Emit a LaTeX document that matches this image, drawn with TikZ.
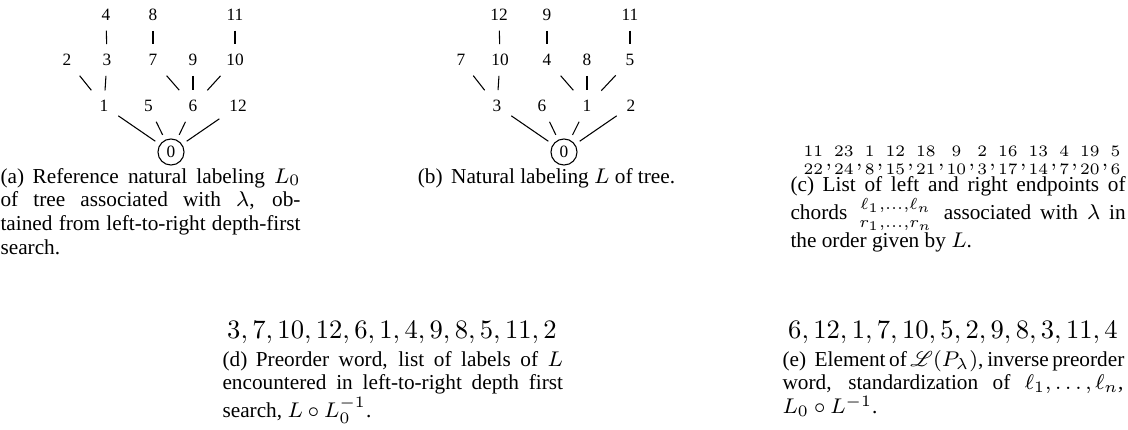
\RequirePackage{fix-cm}
\documentclass[tikz,border=0pt]{standalone}
\usepackage{amsmath}
\usepackage{mathrsfs}
\usepackage[no-math]{fontspec}
\setmainfont{Liberation Serif}
\newcommand{\jl}[1]{\makebox[\linewidth][s]{#1}}
\newcommand{\lsep}{\hspace{0.4em}}
\newcommand{\ch}[2]{\genfrac{}{}{0pt}{}{#1}{#2}}
\begin{document}
\begin{tikzpicture}[x=0.37594pt,y=-0.37594pt,
  lbl/.style={font=\fontsize{6.5}{7.8}\selectfont, inner sep=3.76pt, outer sep=0pt},
  rootnode/.style={circle, draw, line width=0.4pt, minimum size=9.8pt, inner sep=0pt, outer sep=2.25pt, font=\fontsize{6.5}{7.8}\selectfont},
  edge/.style={line width=0.4pt},
  capt/.style={anchor=base west, inner sep=0pt, font=\fontsize{8}{9}\selectfont},
  word/.style={anchor=base, inner sep=0pt, font=\fontsize{10}{12}\selectfont}]
\useasboundingbox (0,0) rectangle (1128,429);

% ---------- tree (a)
\node[lbl] (a4)  at (106,15) {4};
\node[lbl] (a8)  at (153,15) {8};
\node[lbl] (a11) at (235,15) {11};
\node[lbl] (a2)  at (67,60)  {2};
\node[lbl] (a3)  at (107,60) {3};
\node[lbl] (a7)  at (153,60) {7};
\node[lbl] (a9)  at (193,60) {9};
\node[lbl] (a10) at (235,60) {10};
\node[lbl] (a1)  at (104,106) {1};
\node[lbl] (a5)  at (148.5,106) {5};
\node[lbl] (a6)  at (193,106) {6};
\node[lbl] (a12) at (238,106) {12};
\node[rootnode] (a0) at (171,152) {0};
\foreach \u/\v in {a4/a3,a8/a7,a11/a10,a2/a1,a3/a1,a7/a6,a9/a6,a10/a6,a1/a0,a5/a0,a6/a0,a12/a0}
  \draw[edge] (\u) -- (\v);

% ---------- tree (b)
\node[lbl] (b12) at (499,15) {12};
\node[lbl] (b9)  at (547,15) {9};
\node[lbl] (b11) at (630,15) {11};
\node[lbl] (b7)  at (461,60) {7};
\node[lbl] (b10) at (500,60) {10};
\node[lbl] (b4)  at (547,60) {4};
\node[lbl] (b8)  at (587,60) {8};
\node[lbl] (b5)  at (630,60) {5};
\node[lbl] (b3)  at (497,106) {3};
\node[lbl] (b6)  at (542,106) {6};
\node[lbl] (b1)  at (587,106) {1};
\node[lbl] (b2)  at (631,106) {2};
\node[rootnode] (b0) at (564,152) {0};
\foreach \u/\v in {b12/b10,b9/b4,b11/b5,b7/b3,b10/b3,b4/b1,b8/b1,b5/b1,b3/b0,b6/b0,b1/b0,b2/b0}
  \draw[edge] (\u) -- (\v);

% ---------- chords (c)
\node[anchor=base, inner sep=0pt, font=\fontsize{8}{9}\selectfont] (chords) at (962,166)
  {\nulldelimiterspace=0.9pt$\ch{11}{22}{,}\ch{23}{24}{,}\ch{1}{8}{,}\ch{12}{15}{,}\ch{18}{21}{,}\ch{9}{10}{,}\ch{2}{3}{,}\ch{16}{17}{,}\ch{13}{14}{,}\ch{4}{7}{,}\ch{19}{20}{,}\ch{5}{6}$};

% ---------- words (d), (e)
\node[word] (wd) at (392,338) {$3, 7, 10, 12, 6, 1, 4, 9, 8, 5, 11, 2$};
\node[word] (we) at (953,338) {$6, 12, 1, 7, 10, 5, 2, 9, 8, 3, 11, 4$};

% ---------- captions
\node[capt] (capa) at (0,183) {\parbox[t]{112.8pt}{%
  \jl{(a)\lsep Reference natural labeling $L_0$}\\
  \jl{of tree associated with $\lambda$, ob-}\\
  \jl{tained from left-to-right depth-first}\\
  search.}};
\node[anchor=base, inner sep=0pt, font=\fontsize{8}{9}\selectfont] (capb) at (546.5,183)
  {(b)\lsep Natural labeling $L$ of tree.};
\node[capt] (capc) at (790,191) {\parbox[t]{126pt}{%
  \jl{(c)\lsep List of left and right endpoints of}\\
  \jl{chords $\ch{\ell_1,\dots,\ell_n}{r_1,\dots,r_n}$ associated with $\lambda$ in}\\
  the order given by $L$.}};
\node[capt] (capd) at (222,366) {\parbox[t]{128pt}{%
  \jl{(d)\lsep Preorder word, list of labels of $L$}\\
  \jl{encountered in left-to-right depth first}\\
  search, $L\circ L_0^{-1}$.}};
\node[capt] (cape) at (782,366) {\parbox[t]{128.2pt}{%
  \jl{(e)\lsep Element of $\mathscr{L}(P_\lambda)$, inverse preorder}\\
  \jl{word, standardization of $\ell_1,\ldots,\ell_n$,}\\
  $L_0\circ L^{-1}$.}};
\end{tikzpicture}
\end{document}
